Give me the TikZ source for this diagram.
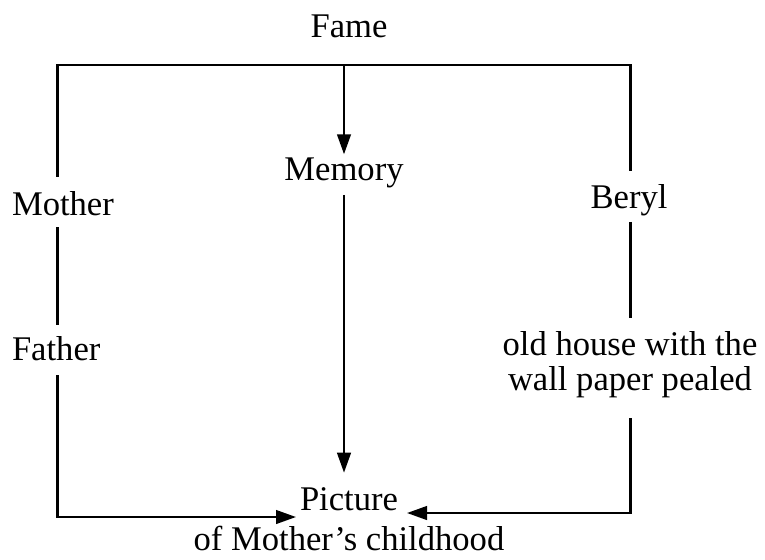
\documentclass[tikz,border=0pt]{standalone}
\usepackage{fontspec}
\setmainfont{Liberation Serif}
\usetikzlibrary{arrows.meta}
\begin{document}
\begin{tikzpicture}[x=0.5pt,y=-0.5pt,
  label text/.style={inner sep=0pt, outer sep=0pt, anchor=base,
    font=\fontsize{17.3}{17.5}\selectfont},
  link/.style={line width=1.2pt, line join=miter},
  arrowlink/.style={link, -{Triangle[length=10pt,width=6.8pt]}}]
\useasboundingbox (0,0) rectangle (765,559);

% labels
\node[label text] (fame) at (349,37) {Fame};
\node[label text] (memory) at (344,180) {Memory};
\node[label text, anchor=base west] (mother) at (12,215) {Mother};
\node[label text, anchor=base west] (father) at (12,360) {Father};
\node[label text] (beryl) at (629,208) {Beryl};
\node[label text, anchor=center, align=center] (house) at (630,364.5)
  {old house with the\\wall paper pealed};
\node[label text] (picture) at (349,510) {Picture};
\node[label text] (childhood) at (349,550) {of Mother’s childhood};

% corners of the frame
\coordinate (tl) at (57.5,65);
\coordinate (tr) at (630.5,65);
\coordinate (bl) at (57.5,517);
\coordinate (br) at (630.5,513);

% top bar with its two side branches
\draw[link, shorten <=7.2pt, shorten >=6.7pt]
  (tl |- mother.north) -- (tl) -- (tr) -- (tr |- beryl.north);

% left branch
\draw[link, shorten <=6pt, shorten >=5.7pt] (tl |- mother.south) -- (tl |- father.north);
\draw[arrowlink, shorten <=7.5pt, shorten >=2pt]
  (tl |- father.south) -- (bl) -- (bl -| picture.west);

% right branch
\draw[link, shorten <=3.25pt, shorten >=6.7pt] (tr |- beryl.south) -- (tr |- house.north);
\draw[arrowlink, shorten <=10.25pt, shorten >=4.5pt]
  (tr |- house.south) -- (br) -- (br -| picture.east);

% middle branch
\draw[arrowlink, shorten >=1.5pt] (memory.north |- tl) -- (memory.north);
\draw[arrowlink, shorten <=3.75pt, shorten >=7.2pt]
  (memory.south) -- (picture.north -| memory.south);
\end{tikzpicture}
\end{document}
